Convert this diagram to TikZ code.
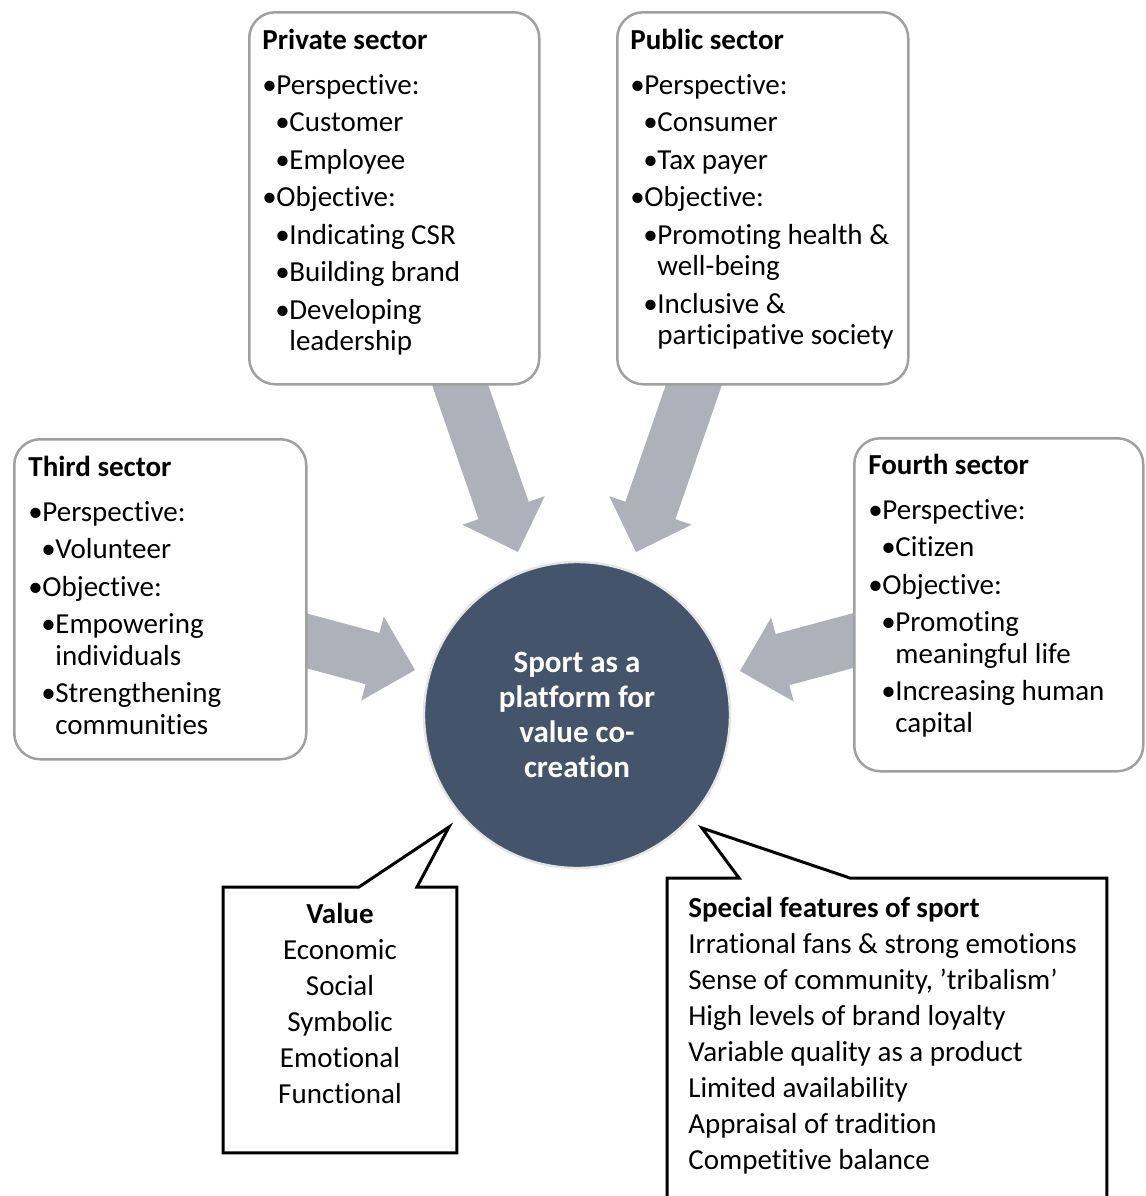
\documentclass[tikz,border=0pt]{standalone}
\usepackage{fontspec}
\setmainfont{Carlito}[Ligatures=NoCommon]
\usetikzlibrary{calc}
\definecolor{arrowgray}{RGB}{174,177,185}
\definecolor{boxgray}{RGB}{160,160,160}
\definecolor{navy}{HTML}{44546A}

\newcommand\bA[1]{\par\hangindent=7pt\hangafter=1\noindent\makebox[7pt][l]{•}#1}
\newcommand\bB[1]{\par\hangindent=13.5pt\hangafter=1\noindent\hspace*{6.5pt}\makebox[7pt][l]{•}#1}
\newcommand\ttl[1]{\noindent\textbf{#1}\par\vspace{3.75pt}}
\newcommand\boxtext[1]{\parbox[t]{140pt}{\fontsize{14.5pt}{15.75pt}\selectfont\setlength\parskip{3pt}#1}}

\newcommand\blockarrow[2]{%
  \path ($(#2)!22pt!(#1)$) coordinate (ah);
  \fill[arrowfill] ($(#1)!13.25pt!90:(#2)$) -- ($(ah)!13.25pt!90:(#2)$) -- ($(ah)!21.75pt!90:(#2)$)
    -- (#2) -- ($(ah)!21.75pt!-90:(#2)$) -- ($(ah)!13.25pt!-90:(#2)$) -- ($(#1)!13.25pt!-90:(#2)$) -- cycle;
}

\tikzset{
  arrowfill/.style={fill=arrowgray},
  sector/.style={draw=boxgray, line width=1.25pt, fill=white, rounded corners=13pt, inner sep=0, anchor=north west},
  txt/.style={anchor=base west, inner sep=0},
  callout/.style={draw=black, line width=1.5pt, fill=white, line join=miter},
}

\begin{document}
\begin{tikzpicture}[x=0.5pt, y=-0.5pt]
\useasboundingbox (0,0) rectangle (1146,1196);

% arrows (behind boxes)
\coordinate (a1s) at (448,350);  \coordinate (a1t) at (518,552);
\coordinate (a2s) at (706,350);  \coordinate (a2t) at (636,552);
\coordinate (a3s) at (270,631);  \coordinate (a3t) at (415,670);
\coordinate (a4s) at (885,632);  \coordinate (a4t) at (740,671);
\blockarrow{a1s}{a1t}
\blockarrow{a2s}{a2t}
\blockarrow{a3s}{a3t}
\blockarrow{a4s}{a4t}

% sector boxes
\node[sector, minimum width=145pt, minimum height=186pt] (priv) at (248,11) {};
\node[sector, minimum width=145.5pt, minimum height=186pt] (pub) at (616,11) {};
\node[sector, minimum width=146pt, minimum height=160pt] (third) at (13,438) {};
\node[sector, minimum width=144.5pt, minimum height=166.5pt] (fourth) at (853,437) {};

\node[txt] (privT) at (262,49) {\boxtext{\ttl{Private sector}
  \bA{Perspective:}\bB{Customer}\bB{Employee}\bA{Objective:}
  \bB{Indicating CSR}\bB{Building brand}\bB{Developing\newline leadership}}};
\node[txt] (pubT) at (630,49) {\boxtext{\ttl{Public sector}
  \bA{Perspective:}\bB{Consumer}\bB{Tax payer}\bA{Objective:}
  \bB{Promoting health \&\newline well-being}\bB{Inclusive \&\newline participative society}}};
\node[txt] (thirdT) at (28,476) {\boxtext{\ttl{Third sector}
  \bA{Perspective:}\bB{Volunteer}\bA{Objective:}
  \bB{Empowering\newline individuals}\bB{Strengthening\newline communities}}};
\node[txt] (fourthT) at (868,474) {\boxtext{\ttl{Fourth sector}
  \bA{Perspective:}\bB{Citizen}\bA{Objective:}
  \bB{Promoting\newline meaningful life}\bB{Increasing human\newline capital}}};

% central circle
\node[circle, fill=navy, draw=gray!20, line width=1.2pt, minimum size=153pt, inner sep=0,
      text=white, align=center, font=\bfseries\fontsize{15.5pt}{17.5pt}\selectfont] (core) at (577,715)
  {Sport as a\\platform for\\value co-\\creation};

% value callout
\node[minimum width=116.5pt, minimum height=132.5pt, inner sep=0, anchor=north west] (valbox) at (223,887) {};
\coordinate (valtip) at (449,827);
\draw[callout] (valbox.north west) -- ($(valbox.north west)+(136,0)$) -- (valtip)
  -- ($(valbox.north west)+(194,0)$) -- (valbox.north east) -- (valbox.south east)
  -- (valbox.south west) -- cycle;
\node[anchor=base, inner sep=0] (valT) at (340,923) {\parbox[t]{110pt}{\centering\fontsize{14.5pt}{18pt}\selectfont
  \textbf{Value}\\Economic\\Social\\Symbolic\\Emotional\\Functional}};

% special features callout
\node[minimum width=219.5pt, minimum height=162pt, inner sep=0, anchor=north west] (specbox) at (667,878) {};
\coordinate (spectip) at (702,828);
\draw[callout] (specbox.north west) -- ($(specbox.north west)+(72,0)$) -- (spectip)
  -- ($(specbox.north west)+(183,0)$) -- (specbox.north east) -- (specbox.south east)
  -- (specbox.south west) -- cycle;
\node[txt] (specT) at (688,917) {\parbox[t]{215pt}{\fontsize{14.5pt}{18pt}\selectfont
  \textbf{Special features of sport}\\
  Irrational fans \& strong emotions\\
  Sense of community, ’tribalism’\\
  High levels of brand loyalty\\
  Variable quality as a product\\
  Limited availability\\
  Appraisal of tradition\\
  Competitive balance}};
\end{tikzpicture}
\end{document}
